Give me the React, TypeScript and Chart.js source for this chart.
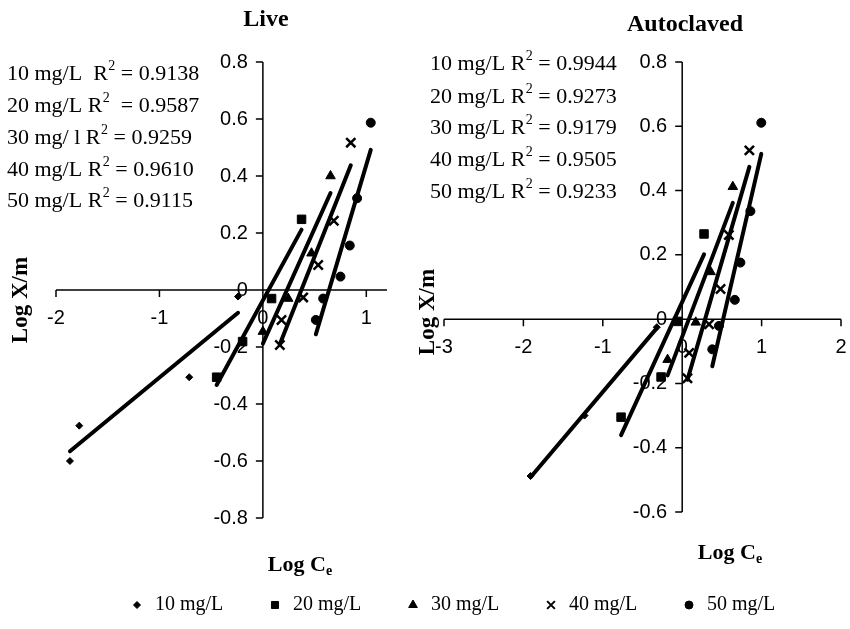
import React, { useEffect, useRef } from 'react';
import { Chart, registerables } from 'chart.js';
import { drawPoint } from 'chart.js/helpers';

Chart.register(...registerables);

// ---------- data ----------
const seriesNames = ['10 mg/L', '20 mg/L', '30 mg/L', '40 mg/L', '50 mg/L'];
const pointStyles = ['rectRot', 'rect', 'triangle', 'crossRot', 'circle'];

// Live
const live10X = [-1.865, -1.775, -0.712, -0.24];
const live10Y = [-0.6, -0.476, -0.306, -0.023];
const live20X = [-0.447, -0.196, 0.084, 0.374];
const live20Y = [-0.306, -0.181, -0.03, 0.248];
const live30X = [0.0, 0.245, 0.47, 0.654];
const live30Y = [-0.146, -0.03, 0.129, 0.4];
const live40X = [0.164, 0.18, 0.39, 0.535, 0.686, 0.85];
const live40Y = [-0.193, -0.105, -0.026, 0.088, 0.243, 0.517];
const live50X = [0.512, 0.583, 0.75, 0.84, 0.911, 1.043];
const live50Y = [-0.105, -0.03, 0.047, 0.156, 0.322, 0.587];

// Autoclaved
const auto10X = [-1.91, -1.23, -0.32];
const auto10Y = [-0.488, -0.3, -0.025];
const auto20X = [-0.77, -0.266, -0.059, 0.275];
const auto20Y = [-0.305, -0.18, -0.007, 0.265];
const auto30X = [-0.184, 0.171, 0.358, 0.6375];
const auto30Y = [-0.126, -0.01, 0.147, 0.412];
const auto40X = [0.066, 0.0875, 0.338, 0.483, 0.5875, 0.846];
const auto40Y = [-0.184, -0.105, -0.016, 0.094, 0.262, 0.525];
const auto50X = [0.379, 0.4625, 0.6625, 0.733, 0.859, 0.996];
const auto50Y = [-0.094, -0.021, 0.06, 0.176, 0.336, 0.611];

// tick labels
const liveXTicks = ['-2', '-1', '0', '1'];
const liveYTicks = ['-0.8', '-0.6', '-0.4', '-0.2', '0', '0.2', '0.4', '0.6', '0.8'];
const autoXTicks = ['-3', '-2', '-1', '0', '1', '2'];
const autoYTicks = ['-0.6', '-0.4', '-0.2', '0', '0.2', '0.4', '0.6', '0.8'];

// R² annotations
const liveEqLabels = ['10 mg/L  R', '20 mg/L R', '30 mg/ l R', '40 mg/L R', '50 mg/L R'];
const liveEqTails = [' = 0.9138', '  = 0.9587', ' = 0.9259', ' = 0.9610', ' = 0.9115'];
const autoEqLabels = ['10 mg/L R', '20 mg/L R', '30 mg/L R', '40 mg/L R', '50 mg/L R'];
const autoEqTails = [' = 0.9944', ' = 0.9273', ' = 0.9179', ' = 0.9505', ' = 0.9233'];

const liveTitle = 'Live';
const autoTitle = 'Autoclaved';
const yAxisTitle = 'Log X/m';
const xAxisTitleMain = 'Log C';
const xAxisTitleSub = 'e';

// ---------- helpers ----------
const markerRadii = [3.5, 6, 5.5, 6.5, 4.5];

function fitLine(xs: number[], ys: number[]) {
  const n = xs.length;
  const mx = xs.reduce((a, b) => a + b, 0) / n;
  const my = ys.reduce((a, b) => a + b, 0) / n;
  let sxy = 0, sxx = 0;
  for (let i = 0; i < n; i++) {
    sxy += (xs[i] - mx) * (ys[i] - my);
    sxx += (xs[i] - mx) * (xs[i] - mx);
  }
  const b = sxy / sxx;
  const a = my - b * mx;
  const x1 = Math.min(...xs), x2 = Math.max(...xs);
  return [{ x: x1, y: a + b * x1 }, { x: x2, y: a + b * x2 }];
}

function buildDatasets(xsList: number[][], ysList: number[][]) {
  const pts = xsList.map((xs, i) => ({
    type: 'scatter' as const,
    label: seriesNames[i],
    data: xs.map((x, j) => ({ x, y: ysList[i][j] })),
    pointStyle: pointStyles[i] as any,
    pointRadius: markerRadii[i],
    backgroundColor: '#000',
    borderColor: '#000',
    borderWidth: pointStyles[i] === 'crossRot' ? 2.5 : 1,
    showLine: false,
    clip: false as any,
  }));
  const lines = xsList.map((xs, i) => ({
    type: 'scatter' as const,
    label: seriesNames[i] + ' fit',
    data: fitLine(xs, ysList[i]),
    showLine: true,
    borderColor: '#000',
    borderWidth: 4,
    borderCapStyle: 'round' as const,
    pointRadius: 0,
    clip: false as any,
  }));
  return [...pts, ...lines];
}

const SERIF = '"Liberation Serif", "Times New Roman", serif';
const SANS = '"Liberation Sans", Arial, sans-serif';

function drawEq(ctx: CanvasRenderingContext2D, x: number, y: number, label: string, tail: string) {
  ctx.font = `22px ${SERIF}`;
  ctx.textAlign = 'left';
  ctx.textBaseline = 'middle';
  ctx.fillText(label, x, y);
  let cx = x + ctx.measureText(label).width;
  ctx.font = `14px ${SERIF}`;
  ctx.fillText('2', cx + 0.5, y - 8);
  cx += ctx.measureText('2').width + 0.5;
  ctx.font = `22px ${SERIF}`;
  ctx.fillText(tail, cx, y);
}

type Panel = {
  xMin: number; xMax: number; yMin: number; yMax: number;
  xTicks: string[]; yTicks: string[];
  padding: { left: number; right: number; top: number; bottom: number };
  title: string; titlePos: [number, number];
  eqX: number; eqY: number[]; eqLabels: string[]; eqTails: string[];
  yTitlePos: [number, number]; xTitlePos: [number, number];
  legend: boolean;
};

const livePanel: Panel = {
  xMin: -2, xMax: 1.2, yMin: -0.8, yMax: 0.8,
  xTicks: liveXTicks, yTicks: liveYTicks,
  padding: { left: 56, right: 463, top: 62, bottom: 111 },
  title: liveTitle, titlePos: [266, 20],
  eqX: 7, eqY: [74.5, 106, 138, 170, 201], eqLabels: liveEqLabels, eqTails: liveEqTails,
  yTitlePos: [21, 300], xTitlePos: [300, 565],
  legend: false,
};

const autoPanel: Panel = {
  xMin: -3, xMax: 2, yMin: -0.6, yMax: 0.8,
  xTicks: autoXTicks, yTicks: autoYTicks,
  padding: { left: 444, right: 7, top: 62, bottom: 117 },
  title: autoTitle, titlePos: [685, 25],
  eqX: 430, eqY: [64.5, 97, 128.5, 160, 192], eqLabels: autoEqLabels, eqTails: autoEqTails,
  yTitlePos: [428, 312], xTitlePos: [730, 553],
  legend: true,
};

function decorPlugin(p: Panel) {
  return {
    id: 'decor',
    beforeDatasetsDraw(chart: any) {
      const { ctx, chartArea } = chart;
      const xs = chart.scales.x, ys = chart.scales.y;
      const x0 = xs.getPixelForValue(0);
      const y0 = ys.getPixelForValue(0);
      ctx.save();
      ctx.strokeStyle = '#000';
      ctx.fillStyle = '#000';
      ctx.lineWidth = 1.5;
      ctx.beginPath();
      ctx.moveTo(chartArea.left, y0);
      ctx.lineTo(chartArea.right, y0);
      ctx.moveTo(x0, chartArea.top);
      ctx.lineTo(x0, chartArea.bottom);
      p.xTicks.forEach((t) => {
        const px = xs.getPixelForValue(Number(t));
        ctx.moveTo(px, y0);
        ctx.lineTo(px, y0 + 7);
      });
      p.yTicks.forEach((t) => {
        const py = ys.getPixelForValue(Number(t));
        ctx.moveTo(x0 - 7, py);
        ctx.lineTo(x0, py);
      });
      ctx.stroke();

      ctx.font = `20px ${SANS}`;
      ctx.textAlign = 'center';
      ctx.textBaseline = 'middle';
      p.xTicks.forEach((t) => {
        ctx.fillText(t, xs.getPixelForValue(Number(t)), y0 + 28);
      });
      ctx.textAlign = 'right';
      p.yTicks.forEach((t) => {
        ctx.fillText(t, x0 - 15, ys.getPixelForValue(Number(t)));
      });

      // titles
      ctx.font = `bold 24px ${SERIF}`;
      ctx.textAlign = 'center';
      ctx.fillText(p.title, p.titlePos[0], p.titlePos[1]);

      // y axis title
      ctx.save();
      ctx.translate(p.yTitlePos[0], p.yTitlePos[1]);
      ctx.rotate(-Math.PI / 2);
      ctx.font = `bold 23px ${SERIF}`;
      ctx.textAlign = 'center';
      ctx.fillText(yAxisTitle, 0, 0);
      ctx.restore();

      // x axis title with subscript
      ctx.font = `bold 22px ${SERIF}`;
      const wMain = ctx.measureText(xAxisTitleMain).width;
      ctx.font = `bold 14px ${SERIF}`;
      const wSub = ctx.measureText(xAxisTitleSub).width;
      const startX = p.xTitlePos[0] - (wMain + wSub) / 2;
      ctx.textAlign = 'left';
      ctx.font = `bold 22px ${SERIF}`;
      ctx.fillText(xAxisTitleMain, startX, p.xTitlePos[1]);
      ctx.font = `bold 14px ${SERIF}`;
      ctx.fillText(xAxisTitleSub, startX + wMain, p.xTitlePos[1] + 6);

      // R² annotations
      p.eqLabels.forEach((lab, i) => drawEq(ctx, p.eqX, p.eqY[i], lab, p.eqTails[i]));

      // legend
      if (p.legend) {
        const legendY = 605;
        const legendRadii = [3.5, 5, 5, 5.5, 4];
        seriesNames.forEach((name, i) => {
          const mx = 137 + i * 138;
          ctx.fillStyle = '#000';
          ctx.strokeStyle = '#000';
          ctx.lineWidth = pointStyles[i] === 'crossRot' ? 2 : 1;
          drawPoint(ctx, { pointStyle: pointStyles[i] as any, radius: legendRadii[i], rotation: 0, borderWidth: ctx.lineWidth } as any, mx, legendY);
          ctx.font = `20px ${SERIF}`;
          ctx.textAlign = 'left';
          ctx.textBaseline = 'middle';
          ctx.fillText(name, mx + 18, legendY);
        });
      }
      ctx.restore();
    },
  };
}

function buildConfig(p: Panel, xsList: number[][], ysList: number[][]): any {
  return {
    type: 'scatter',
    data: { datasets: buildDatasets(xsList, ysList) },
    options: {
      responsive: false,
      animation: false,
      events: [],
      layout: { padding: p.padding },
      scales: {
        x: { type: 'linear', min: p.xMin, max: p.xMax, display: false },
        y: { type: 'linear', min: p.yMin, max: p.yMax, display: false },
      },
      plugins: { legend: { display: false }, tooltip: { enabled: false }, title: { display: false } },
    },
    plugins: [decorPlugin(p)],
  };
}

export default function App() {
  const leftRef = useRef<HTMLCanvasElement>(null);
  const rightRef = useRef<HTMLCanvasElement>(null);
  useEffect(() => {
    const c1 = new Chart(leftRef.current!, buildConfig(livePanel,
      [live10X, live20X, live30X, live40X, live50X],
      [live10Y, live20Y, live30Y, live40Y, live50Y]));
    const c2 = new Chart(rightRef.current!, buildConfig(autoPanel,
      [auto10X, auto20X, auto30X, auto40X, auto50X],
      [auto10Y, auto20Y, auto30Y, auto40Y, auto50Y]));
    return () => { c1.destroy(); c2.destroy(); };
  }, []);
  return (
    <div style={{ position: 'fixed', left: 0, top: 0, width: 850, height: 629, background: '#fff' }}>
      <canvas ref={leftRef} width={850} height={629} style={{ position: 'absolute', left: 0, top: 0 }} />
      <canvas ref={rightRef} width={850} height={629} style={{ position: 'absolute', left: 0, top: 0 }} />
    </div>
  );
}
